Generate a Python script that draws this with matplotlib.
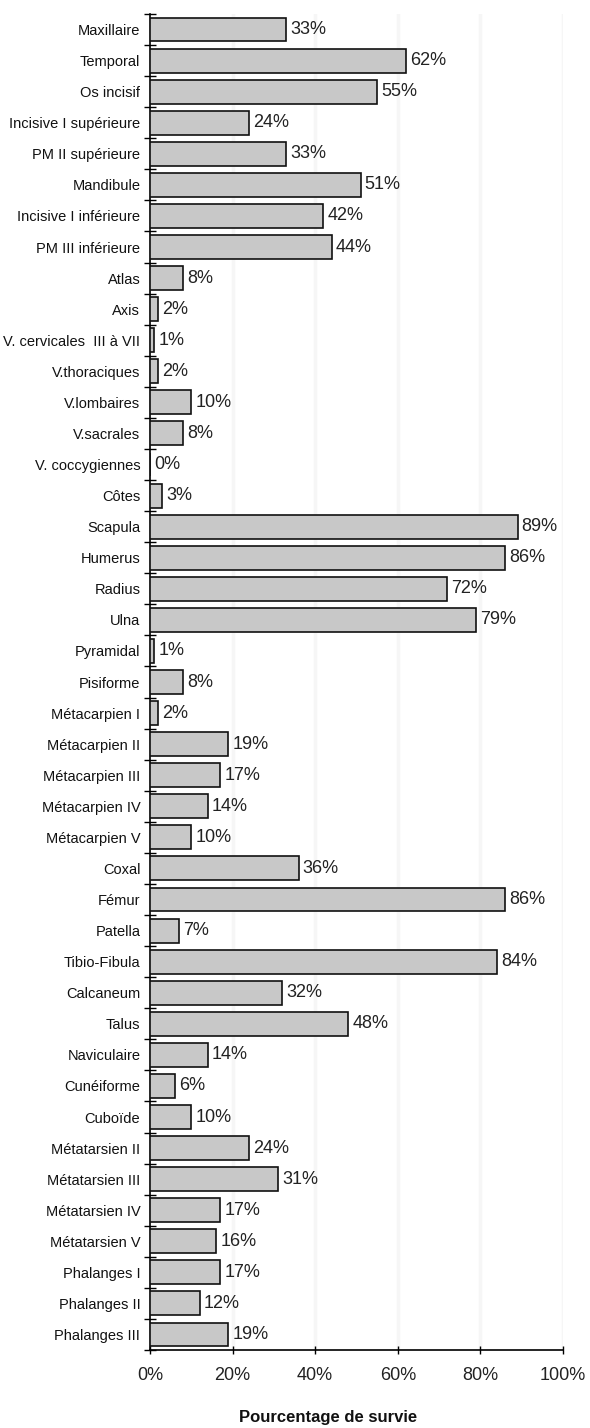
import matplotlib
matplotlib.use('Agg')
import matplotlib.pyplot as plt
from matplotlib.ticker import FixedLocator

os_noms = ["Maxillaire", "Temporal", "Os incisif", "Incisive I supérieure",
           "PM II supérieure", "Mandibule", "Incisive I inférieure",
           "PM III inférieure", "Atlas", "Axis", "V. cervicales  III à VII",
           "V.thoraciques", "V.lombaires", "V.sacrales", "V. coccygiennes",
           "Côtes", "Scapula", "Humerus", "Radius", "Ulna", "Pyramidal",
           "Pisiforme", "Métacarpien I", "Métacarpien II", "Métacarpien III",
           "Métacarpien IV", "Métacarpien V", "Coxal", "Fémur", "Patella",
           "Tibio-Fibula", "Calcaneum", "Talus", "Naviculaire", "Cunéiforme",
           "Cuboïde", "Métatarsien II", "Métatarsien III", "Métatarsien IV",
           "Métatarsien V", "Phalanges I", "Phalanges II", "Phalanges III"]
survie = [33, 62, 55, 24, 33, 51, 42, 44, 8, 2, 1, 2, 10, 8, 0, 3, 89, 86, 72,
          79, 1, 8, 2, 19, 17, 14, 10, 36, 86, 7, 84, 32, 48, 14, 6, 10, 24, 31,
          17, 16, 17, 12, 19]
xticks = [0, 20, 40, 60, 80, 100]

plt.rcParams['font.family'] = ['Liberation Sans', 'DejaVu Sans']

fig = plt.figure(figsize=(5.9, 14.28), dpi=100)
ax = fig.add_axes([0.2542, 0.0546, 0.700, 0.9356])

n = len(os_noms)
pos = list(range(n))
ax.barh(pos, survie, height=0.77, color='#c8c8c8', edgecolor='#111111',
        linewidth=1.2, zorder=3)
for p, v in zip(pos, survie):
    ax.text(v + 1.0, p, "%d%%" % v, va='center', ha='left', fontsize=13,
            color='#222222', zorder=4)

ax.set_ylim(n - 0.5, -0.5)
ax.set_xlim(0, 100)
ax.set_yticks(pos)
ax.set_yticklabels(os_noms, fontsize=10.5, color='#111111')
ax.tick_params(axis='y', which='major', length=0, pad=7)
ax.yaxis.set_minor_locator(FixedLocator([i - 0.5 for i in range(n + 1)]))
ax.tick_params(axis='y', which='minor', length=8, direction='inout', width=1)

ax.set_xticks(xticks)
ax.set_xticklabels(["%d%%" % t for t in xticks], fontsize=13, color='#222222')
ax.tick_params(axis='x', length=6, direction='inout', width=1, pad=9)
ax.set_xlabel("Pourcentage de survie", fontsize=12, fontweight='bold',
              labelpad=19, color='#111111', x=0.43)

for t in xticks[1:]:
    ax.axvline(t, color='#f6f6f6', lw=2.5, zorder=0)

for s in ['top', 'right']:
    ax.spines[s].set_visible(False)
ax.spines['left'].set_linewidth(1.2)
ax.spines['bottom'].set_linewidth(1.2)

plt.savefig("out.png", dpi=100)
